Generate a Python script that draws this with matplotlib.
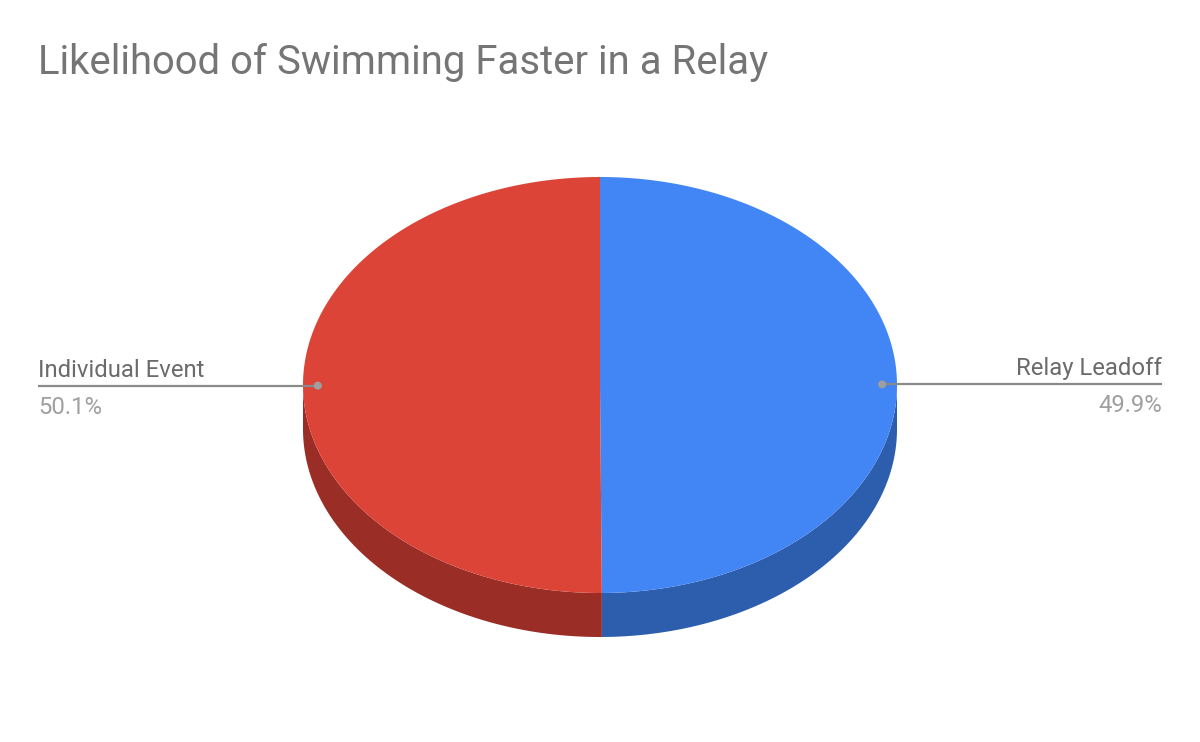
import numpy as np
import matplotlib.pyplot as plt
from matplotlib.patches import Polygon, Circle

plt.rcParams['font.family'] = ['Roboto', 'DejaVu Sans']

# data
labels = ['Relay Leadoff', 'Individual Event']
values = [49.9, 50.1]
top_colors = ['#4285F4', '#DB4437']
side_colors = ['#2D5EAD', '#9A2D26']

title = 'Likelihood of Swimming Faster in a Relay'

# pie geometry (pixels)
cx, cy = 600, 385
rx, ry = 297, 208
depth = 44


def ellipse_pts(t0, t1, n=200, dy=0.0):
    t = np.linspace(t0, t1, n)
    return np.column_stack([cx + rx * np.sin(t), cy - ry * np.cos(t) + dy])


fig = plt.figure(figsize=(12, 7.42), dpi=100)
ax = fig.add_axes([0, 0, 1, 1])
ax.set_xlim(0, 1200)
ax.set_ylim(742, 0)
ax.axis('off')

fracs = np.array(values) / sum(values)
starts = np.concatenate([[0], np.cumsum(fracs)[:-1]]) * 2 * np.pi
ends = np.cumsum(fracs) * 2 * np.pi

# sides (front half only)
for s, e, c in zip(starts, ends, side_colors):
    a, b = max(s, np.pi / 2), min(e, 3 * np.pi / 2)
    if b > a:
        upper = ellipse_pts(a, b)
        lower = ellipse_pts(a, b, dy=depth)[::-1]
        ax.add_patch(Polygon(np.vstack([upper, lower]), closed=True,
                             facecolor=c, edgecolor='none'))

# top faces
for s, e, c in zip(starts, ends, top_colors):
    pts = np.vstack([[cx, cy], ellipse_pts(s, e)])
    ax.add_patch(Polygon(pts, closed=True, facecolor=c, edgecolor='none'))

# labels with leader lines
for lab, v, s, e in zip(labels, values, starts, ends):
    m = (s + e) / 2
    px = cx + 0.95 * rx * np.sin(m)
    py = cy - 0.95 * ry * np.cos(m)
    if np.sin(m) > 0:
        tx, ha = 1162, 'right'
    else:
        tx, ha = 38, 'left'
    ax.plot([px, tx], [py, py], color='#8a8a8a', lw=1.6, solid_capstyle='butt')
    ax.add_patch(Circle((px, py), 4, facecolor='#9E9E9E', edgecolor='none', zorder=5))
    ax.text(tx, py - 9, lab, ha=ha, va='baseline', fontsize=17.2, color='#6b6b6b')
    ax.text(tx, py + 28, f'{v:.1f}%', ha=ha, va='baseline', fontsize=17.2, color='#a0a0a0')

ax.text(38, 74, title, ha='left', va='baseline', fontsize=28.9, color='#757575')

fig.savefig('out.png', dpi=100)
